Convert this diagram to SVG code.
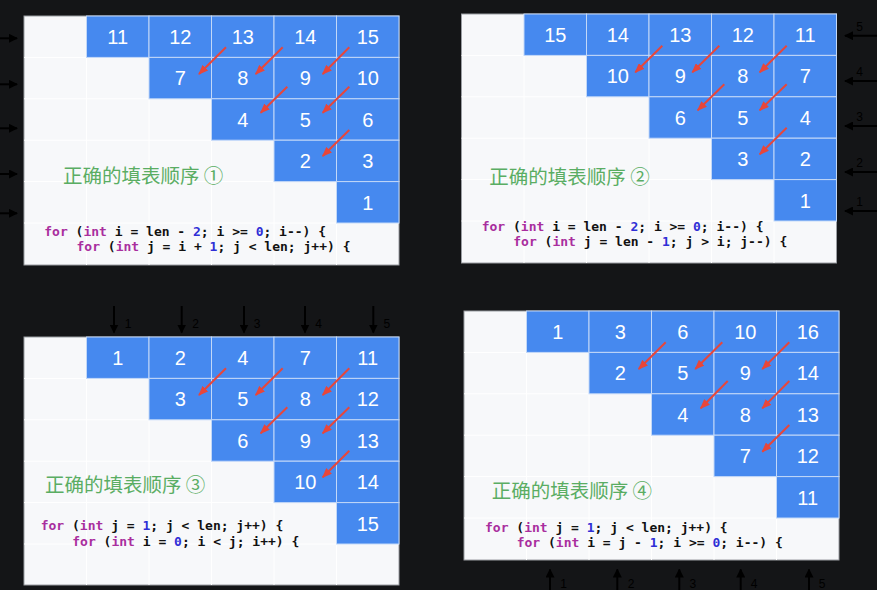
<svg xmlns="http://www.w3.org/2000/svg" width="877" height="590" viewBox="0 0 877 590">
<defs>
<style>
.bg{fill:#141517}
.panel{fill:#f7f8fa;stroke:#9a9da2;stroke-width:1}
.grid{stroke:#ffffff;stroke-width:1;fill:none}
.cell{fill:#4689ef;stroke:#c2d8f8;stroke-width:1}
.num{font-family:"Liberation Sans",Arial,sans-serif;font-size:20px;fill:#ffffff;text-anchor:middle}
.title{font-family:"Noto Sans CJK SC","Noto Sans",sans-serif;font-size:19.5px;fill:#5aad63}
.code{font-family:"DejaVu Sans Mono","Liberation Mono",monospace;font-size:13px;font-weight:bold;fill:#111111;white-space:pre}
.kw{fill:#a92e9e}
.n{fill:#2f2fd6}
.red{stroke:#e8463a;stroke-width:2;fill:none;marker-end:url(#rh)}
.blk{stroke:#000000;stroke-width:2;fill:none;marker-end:url(#bh)}
.lbl{font-family:"Liberation Sans",Arial,sans-serif;font-size:12px;fill:#000000;text-anchor:middle}
</style>
<marker id="rh" markerWidth="10" markerHeight="8" refX="9" refY="4" orient="auto" markerUnits="userSpaceOnUse"><path d="M0,0 L10,4 L0,8 z" fill="#e8463a"/></marker>
<marker id="bh" markerWidth="9" markerHeight="9" refX="8" refY="4.5" orient="auto" markerUnits="userSpaceOnUse"><path d="M0,0 L9,4.5 L0,9 z" fill="#000000"/></marker>
</defs>
<rect class="bg" x="0" y="0" width="877" height="590"/>

<!-- Panel 1 -->
<g id="panel1">
<rect class="panel" x="24" y="16" width="375" height="249"/>
<path class="grid" d="M86.5,16V265M149,16V265M211.5,16V265M274,16V265M336.5,16V265M24,57.4H399M24,98.8H399M24,140.2H399M24,181.6H399M24,223H399"/>
<g id="p1-n11"><rect class="cell" x="86.5" y="16" width="62.5" height="41.4"/><text class="num" x="117.75" y="44">11</text></g>
<g id="p1-n12"><rect class="cell" x="149" y="16" width="62.5" height="41.4"/><text class="num" x="180.25" y="44">12</text></g>
<g id="p1-n13"><rect class="cell" x="211.5" y="16" width="62.5" height="41.4"/><text class="num" x="242.75" y="44">13</text></g>
<g id="p1-n14"><rect class="cell" x="274" y="16" width="62.5" height="41.4"/><text class="num" x="305.25" y="44">14</text></g>
<g id="p1-n15"><rect class="cell" x="336.5" y="16" width="62.5" height="41.4"/><text class="num" x="367.75" y="44">15</text></g>
<g id="p1-n7"><rect class="cell" x="149" y="57.4" width="62.5" height="41.4"/><text class="num" x="180.25" y="85.4">7</text></g>
<g id="p1-n8"><rect class="cell" x="211.5" y="57.4" width="62.5" height="41.4"/><text class="num" x="242.75" y="85.4">8</text></g>
<g id="p1-n9"><rect class="cell" x="274" y="57.4" width="62.5" height="41.4"/><text class="num" x="305.25" y="85.4">9</text></g>
<g id="p1-n10"><rect class="cell" x="336.5" y="57.4" width="62.5" height="41.4"/><text class="num" x="367.75" y="85.4">10</text></g>
<g id="p1-n4"><rect class="cell" x="211.5" y="98.8" width="62.5" height="41.4"/><text class="num" x="242.75" y="126.8">4</text></g>
<g id="p1-n5"><rect class="cell" x="274" y="98.8" width="62.5" height="41.4"/><text class="num" x="305.25" y="126.8">5</text></g>
<g id="p1-n6"><rect class="cell" x="336.5" y="98.8" width="62.5" height="41.4"/><text class="num" x="367.75" y="126.8">6</text></g>
<g id="p1-n2"><rect class="cell" x="274" y="140.2" width="62.5" height="41.4"/><text class="num" x="305.25" y="168.2">2</text></g>
<g id="p1-n3"><rect class="cell" x="336.5" y="140.2" width="62.5" height="41.4"/><text class="num" x="367.75" y="168.2">3</text></g>
<g id="p1-n1"><rect class="cell" x="336.5" y="181.6" width="62.5" height="41.4"/><text class="num" x="367.75" y="209.6">1</text></g>
<text class="title" x="63" y="183">正确的填表顺序 ①</text>
<text class="code" x="44.3" y="235.5"><tspan class="kw">for</tspan> (<tspan class="kw">int</tspan> i = len - <tspan class="n">2</tspan>; i &gt;= <tspan class="n">0</tspan>; i--) {</text>
<text class="code" x="76.5" y="251.2"><tspan class="kw">for</tspan> (<tspan class="kw">int</tspan> j = i + <tspan class="n">1</tspan>; j &lt; len; j++) {</text>
</g>

<!-- Panel 2 -->
<g id="panel2">
<rect class="panel" x="461.5" y="14" width="375" height="249"/>
<path class="grid" d="M524,14V263M586.5,14V263M649,14V263M711.5,14V263M774,14V263M461.5,55.4H836.5M461.5,96.8H836.5M461.5,138.2H836.5M461.5,179.6H836.5M461.5,221H836.5"/>
<g id="p2-n15"><rect class="cell" x="524" y="14" width="62.5" height="41.4"/><text class="num" x="555.25" y="42">15</text></g>
<g id="p2-n14"><rect class="cell" x="586.5" y="14" width="62.5" height="41.4"/><text class="num" x="617.75" y="42">14</text></g>
<g id="p2-n13"><rect class="cell" x="649" y="14" width="62.5" height="41.4"/><text class="num" x="680.25" y="42">13</text></g>
<g id="p2-n12"><rect class="cell" x="711.5" y="14" width="62.5" height="41.4"/><text class="num" x="742.75" y="42">12</text></g>
<g id="p2-n11"><rect class="cell" x="774" y="14" width="62.5" height="41.4"/><text class="num" x="805.25" y="42">11</text></g>
<g id="p2-n10"><rect class="cell" x="586.5" y="55.4" width="62.5" height="41.4"/><text class="num" x="617.75" y="83.4">10</text></g>
<g id="p2-n9"><rect class="cell" x="649" y="55.4" width="62.5" height="41.4"/><text class="num" x="680.25" y="83.4">9</text></g>
<g id="p2-n8"><rect class="cell" x="711.5" y="55.4" width="62.5" height="41.4"/><text class="num" x="742.75" y="83.4">8</text></g>
<g id="p2-n7"><rect class="cell" x="774" y="55.4" width="62.5" height="41.4"/><text class="num" x="805.25" y="83.4">7</text></g>
<g id="p2-n6"><rect class="cell" x="649" y="96.8" width="62.5" height="41.4"/><text class="num" x="680.25" y="124.8">6</text></g>
<g id="p2-n5"><rect class="cell" x="711.5" y="96.8" width="62.5" height="41.4"/><text class="num" x="742.75" y="124.8">5</text></g>
<g id="p2-n4"><rect class="cell" x="774" y="96.8" width="62.5" height="41.4"/><text class="num" x="805.25" y="124.8">4</text></g>
<g id="p2-n3"><rect class="cell" x="711.5" y="138.2" width="62.5" height="41.4"/><text class="num" x="742.75" y="166.2">3</text></g>
<g id="p2-n2"><rect class="cell" x="774" y="138.2" width="62.5" height="41.4"/><text class="num" x="805.25" y="166.2">2</text></g>
<g id="p2-n1"><rect class="cell" x="774" y="179.6" width="62.5" height="41.4"/><text class="num" x="805.25" y="207.6">1</text></g>
<text class="title" x="489.3" y="184">正确的填表顺序 ②</text>
<text class="code" x="481.7" y="230.5"><tspan class="kw">for</tspan> (<tspan class="kw">int</tspan> i = len - <tspan class="n">2</tspan>; i &gt;= <tspan class="n">0</tspan>; i--) {</text>
<text class="code" x="513.3" y="246.2"><tspan class="kw">for</tspan> (<tspan class="kw">int</tspan> j = len - <tspan class="n">1</tspan>; j &gt; i; j--) {</text>
</g>

<!-- Panel 3 -->
<g id="panel3">
<rect class="panel" x="24" y="337" width="375" height="248"/>
<path class="grid" d="M86.5,337V585M149,337V585M211.5,337V585M274,337V585M336.5,337V585M24,378.4H399M24,419.8H399M24,461.2H399M24,502.6H399M24,544H399"/>
<g id="p3-n1"><rect class="cell" x="86.5" y="337" width="62.5" height="41.4"/><text class="num" x="117.75" y="365">1</text></g>
<g id="p3-n2"><rect class="cell" x="149" y="337" width="62.5" height="41.4"/><text class="num" x="180.25" y="365">2</text></g>
<g id="p3-n4"><rect class="cell" x="211.5" y="337" width="62.5" height="41.4"/><text class="num" x="242.75" y="365">4</text></g>
<g id="p3-n7"><rect class="cell" x="274" y="337" width="62.5" height="41.4"/><text class="num" x="305.25" y="365">7</text></g>
<g id="p3-n11"><rect class="cell" x="336.5" y="337" width="62.5" height="41.4"/><text class="num" x="367.75" y="365">11</text></g>
<g id="p3-n3"><rect class="cell" x="149" y="378.4" width="62.5" height="41.4"/><text class="num" x="180.25" y="406.4">3</text></g>
<g id="p3-n5"><rect class="cell" x="211.5" y="378.4" width="62.5" height="41.4"/><text class="num" x="242.75" y="406.4">5</text></g>
<g id="p3-n8"><rect class="cell" x="274" y="378.4" width="62.5" height="41.4"/><text class="num" x="305.25" y="406.4">8</text></g>
<g id="p3-n12"><rect class="cell" x="336.5" y="378.4" width="62.5" height="41.4"/><text class="num" x="367.75" y="406.4">12</text></g>
<g id="p3-n6"><rect class="cell" x="211.5" y="419.8" width="62.5" height="41.4"/><text class="num" x="242.75" y="447.8">6</text></g>
<g id="p3-n9"><rect class="cell" x="274" y="419.8" width="62.5" height="41.4"/><text class="num" x="305.25" y="447.8">9</text></g>
<g id="p3-n13"><rect class="cell" x="336.5" y="419.8" width="62.5" height="41.4"/><text class="num" x="367.75" y="447.8">13</text></g>
<g id="p3-n10"><rect class="cell" x="274" y="461.2" width="62.5" height="41.4"/><text class="num" x="305.25" y="489.2">10</text></g>
<g id="p3-n14"><rect class="cell" x="336.5" y="461.2" width="62.5" height="41.4"/><text class="num" x="367.75" y="489.2">14</text></g>
<g id="p3-n15"><rect class="cell" x="336.5" y="502.6" width="62.5" height="41.4"/><text class="num" x="367.75" y="530.6">15</text></g>
<text class="title" x="45" y="491.7">正确的填表顺序 ③</text>
<text class="code" x="40.7" y="529.8"><tspan class="kw">for</tspan> (<tspan class="kw">int</tspan> j = <tspan class="n">1</tspan>; j &lt; len; j++) {</text>
<text class="code" x="72.3" y="545.5"><tspan class="kw">for</tspan> (<tspan class="kw">int</tspan> i = <tspan class="n">0</tspan>; i &lt; j; i++) {</text>
</g>

<!-- Panel 4 -->
<g id="panel4">
<rect class="panel" x="464" y="311" width="375" height="249"/>
<path class="grid" d="M526.5,311V560M589,311V560M651.5,311V560M714,311V560M776.5,311V560M464,352.4H839M464,393.8H839M464,435.2H839M464,476.6H839M464,518H839"/>
<g id="p4-n1"><rect class="cell" x="526.5" y="311" width="62.5" height="41.4"/><text class="num" x="557.75" y="339">1</text></g>
<g id="p4-n3"><rect class="cell" x="589" y="311" width="62.5" height="41.4"/><text class="num" x="620.25" y="339">3</text></g>
<g id="p4-n6"><rect class="cell" x="651.5" y="311" width="62.5" height="41.4"/><text class="num" x="682.75" y="339">6</text></g>
<g id="p4-n10"><rect class="cell" x="714" y="311" width="62.5" height="41.4"/><text class="num" x="745.25" y="339">10</text></g>
<g id="p4-n16"><rect class="cell" x="776.5" y="311" width="62.5" height="41.4"/><text class="num" x="807.75" y="339">16</text></g>
<g id="p4-n2"><rect class="cell" x="589" y="352.4" width="62.5" height="41.4"/><text class="num" x="620.25" y="380.4">2</text></g>
<g id="p4-n5"><rect class="cell" x="651.5" y="352.4" width="62.5" height="41.4"/><text class="num" x="682.75" y="380.4">5</text></g>
<g id="p4-n9"><rect class="cell" x="714" y="352.4" width="62.5" height="41.4"/><text class="num" x="745.25" y="380.4">9</text></g>
<g id="p4-n14"><rect class="cell" x="776.5" y="352.4" width="62.5" height="41.4"/><text class="num" x="807.75" y="380.4">14</text></g>
<g id="p4-n4"><rect class="cell" x="651.5" y="393.8" width="62.5" height="41.4"/><text class="num" x="682.75" y="421.8">4</text></g>
<g id="p4-n8"><rect class="cell" x="714" y="393.8" width="62.5" height="41.4"/><text class="num" x="745.25" y="421.8">8</text></g>
<g id="p4-n13"><rect class="cell" x="776.5" y="393.8" width="62.5" height="41.4"/><text class="num" x="807.75" y="421.8">13</text></g>
<g id="p4-n7"><rect class="cell" x="714" y="435.2" width="62.5" height="41.4"/><text class="num" x="745.25" y="463.2">7</text></g>
<g id="p4-n12"><rect class="cell" x="776.5" y="435.2" width="62.5" height="41.4"/><text class="num" x="807.75" y="463.2">12</text></g>
<g id="p4-n11"><rect class="cell" x="776.5" y="476.6" width="62.5" height="41.4"/><text class="num" x="807.75" y="504.6">11</text></g>
<text class="title" x="491.7" y="497.7">正确的填表顺序 ④</text>
<text class="code" x="485" y="531.5"><tspan class="kw">for</tspan> (<tspan class="kw">int</tspan> j = <tspan class="n">1</tspan>; j &lt; len; j++) {</text>
<text class="code" x="516.7" y="547.2"><tspan class="kw">for</tspan> (<tspan class="kw">int</tspan> i = j - <tspan class="n">1</tspan>; i &gt;= <tspan class="n">0</tspan>; i--) {</text>
</g>

<!-- Connectors -->
<g id="connectors">
<path class="red" d="M226,47.3L199,74"/>
<path class="red" d="M282.7,47.3L255.7,74"/>
<path class="red" d="M349.3,47.3L322.7,74"/>
<path class="red" d="M287.3,86.7L260.7,112.7"/>
<path class="red" d="M349.3,86.7L322.7,112.7"/>
<path class="red" d="M349.3,130L322.7,156"/>

<path class="red" d="M662.3,45.7L635.3,72.3"/>
<path class="red" d="M719.3,45.7L692.3,72.3"/>
<path class="red" d="M786.7,45.7L759.7,72.3"/>
<path class="red" d="M724.3,84.3L697.7,110.3"/>
<path class="red" d="M786.7,84.3L759.7,110.3"/>
<path class="red" d="M786.7,127.7L759.7,154.3"/>

<path class="red" d="M226,368.3L199,395"/>
<path class="red" d="M282.7,368.3L255.7,395"/>
<path class="red" d="M349.3,368.3L322.7,395"/>
<path class="red" d="M287.3,407.3L260.7,433.3"/>
<path class="red" d="M349.3,407.3L322.7,433.3"/>
<path class="red" d="M349.3,450.7L322.7,477.3"/>

<path class="red" d="M665.7,342.3L638.7,369"/>
<path class="red" d="M722.3,342.3L695.3,369"/>
<path class="red" d="M789.3,342.3L762.3,369"/>
<path class="red" d="M727.7,381L700.7,408.3"/>
<path class="red" d="M789.3,381L762.3,408.3"/>
<path class="red" d="M789.3,425L762.3,451.7"/>

<path class="blk" d="M-2,38.3H17"/>
<path class="blk" d="M-2,84.3H17"/>
<path class="blk" d="M-2,128.3H17"/>
<path class="blk" d="M-2,174H17"/>
<path class="blk" d="M-2,213.3H17"/>

<path class="blk" d="M879,35.7H845"/>
<path class="blk" d="M879,81H845"/>
<path class="blk" d="M879,126H845"/>
<path class="blk" d="M879,172H845"/>
<path class="blk" d="M879,211H845"/>

<path class="blk" d="M114,306V332.5"/>
<path class="blk" d="M181.7,306V332.5"/>
<path class="blk" d="M244,306V332.5"/>
<path class="blk" d="M305,306V332.5"/>
<path class="blk" d="M373.3,306V332.5"/>

<path class="blk" d="M550,592V569.5"/>
<path class="blk" d="M617.3,592V569.5"/>
<path class="blk" d="M679.3,592V569.5"/>
<path class="blk" d="M740.7,592V569.5"/>
<path class="blk" d="M809,592V569.5"/>
</g>

<g id="labels">
<text class="lbl" x="859.5" y="30.5">5</text>
<text class="lbl" x="859.5" y="76">4</text>
<text class="lbl" x="859.5" y="121">3</text>
<text class="lbl" x="859.5" y="167">2</text>
<text class="lbl" x="859.5" y="206">1</text>
<text class="lbl" x="128" y="328">1</text>
<text class="lbl" x="195.5" y="328">2</text>
<text class="lbl" x="257" y="328">3</text>
<text class="lbl" x="318.5" y="328">4</text>
<text class="lbl" x="386.8" y="328">5</text>
<text class="lbl" x="563.5" y="587.5">1</text>
<text class="lbl" x="631" y="587.5">2</text>
<text class="lbl" x="692.8" y="587.5">3</text>
<text class="lbl" x="754" y="587.5">4</text>
<text class="lbl" x="822" y="587.5">5</text>
</g>
</svg>
